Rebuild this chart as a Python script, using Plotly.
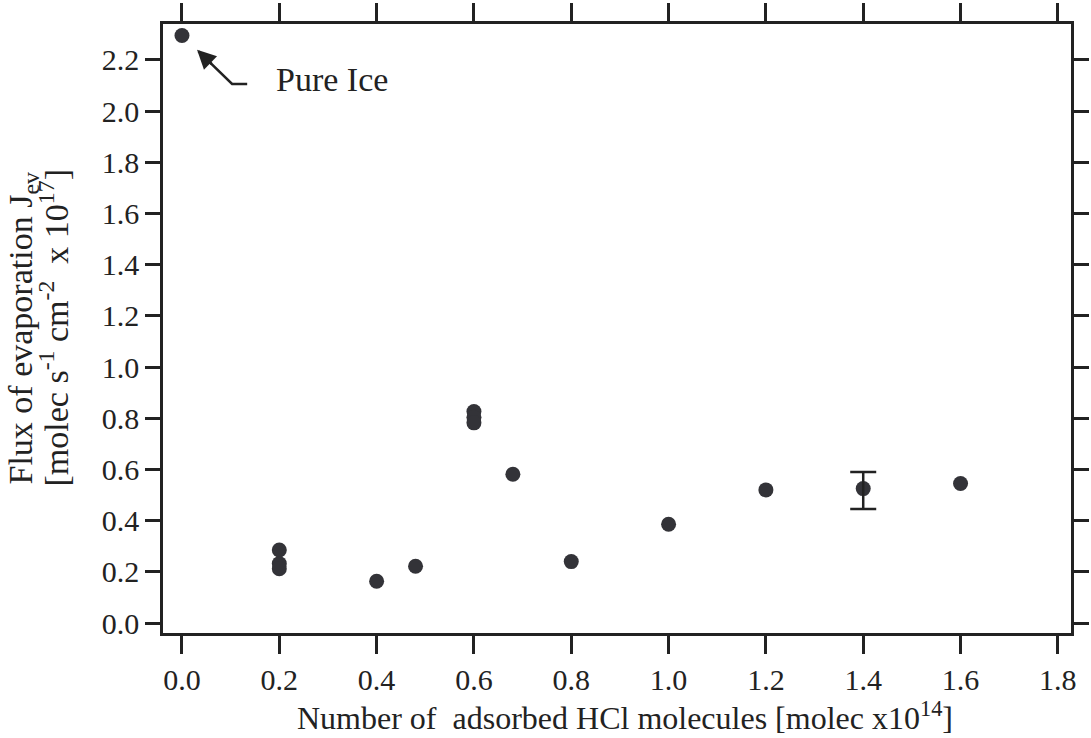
import plotly.graph_objects as go

x_vals = [0.0, 0.2, 0.2, 0.2, 0.4, 0.48, 0.6, 0.6, 0.6, 0.68, 0.8, 1.0, 1.2, 1.4, 1.6]
y_vals = [2.295, 0.285, 0.232, 0.212, 0.163, 0.222, 0.826, 0.804, 0.782, 0.581, 0.240, 0.386, 0.520, 0.525, 0.545]

# error bar (only one point carries it)
err_x = [1.4]
err_y = [0.525]
err_plus = [0.065]
err_minus = [0.080]

x_ticks = [0.0, 0.2, 0.4, 0.6, 0.8, 1.0, 1.2, 1.4, 1.6, 1.8]
y_ticks = [0.0, 0.2, 0.4, 0.6, 0.8, 1.0, 1.2, 1.4, 1.6, 1.8, 2.0, 2.2]

x_title = "Number of  adsorbed HCl molecules [molec x10<sup>14</sup>]"
y_title_1 = "Flux of evaporation J<sub>ev</sub>"
y_title_2 = "[molec s<sup>-1</sup> cm<sup>-2</sup>  x 10<sup>17</sup>]"
note_text = "Pure Ice"

FONT = "Liberation Serif"
DARK = "#333338"
AX = "#222222"
TICK_SIZE = 30
TITLE_SIZE = 34
XTITLE_SIZE = 32

fig = go.Figure()
fig.add_trace(go.Scatter(
    x=x_vals, y=y_vals, mode="markers",
    marker=dict(size=15, color=DARK),
    showlegend=False,
))
fig.add_trace(go.Scatter(
    x=err_x, y=err_y, mode="markers",
    marker=dict(size=15, color=DARK, opacity=0),
    error_y=dict(type="data", symmetric=False, array=err_plus, arrayminus=err_minus,
                 color=AX, thickness=2.5, width=13),
    showlegend=False,
))

# bent arrow pointing at the pure-ice point
fig.add_shape(type="path", path="M 0.034,2.233 L 0.103,2.106 L 0.134,2.106",
              xref="x", yref="y", line=dict(color=AX, width=2.5))
fig.add_annotation(x=0.031, y=2.239, ax=0.064, ay=2.178, axref="x", ayref="y",
                   xref="x", yref="y", text="", showarrow=True,
                   arrowhead=2, arrowsize=1.5, arrowwidth=2.5, arrowcolor=AX)
fig.add_annotation(x=0.19, y=2.122, xref="x", yref="y", text=note_text,
                   showarrow=False, xanchor="left", yanchor="middle",
                   font=dict(family=FONT, size=TITLE_SIZE, color=AX))

# axis titles as annotations for precise placement
fig.add_annotation(x=0.5, y=0, xref="paper", yref="paper", text=x_title,
                   showarrow=False, xanchor="center", yanchor="middle",
                   xshift=8, yshift=-83,
                   font=dict(family=FONT, size=XTITLE_SIZE, color=AX))
fig.add_annotation(x=0, y=0.5, xref="paper", yref="paper", text=y_title_1,
                   showarrow=False, xanchor="center", yanchor="middle",
                   textangle=-90, xshift=-141,
                   font=dict(family=FONT, size=TITLE_SIZE, color=AX))
fig.add_annotation(x=0, y=0.5, xref="paper", yref="paper", text=y_title_2,
                   showarrow=False, xanchor="center", yanchor="middle",
                   textangle=-90, xshift=-110,
                   font=dict(family=FONT, size=TITLE_SIZE, color=AX))

axis_common = dict(
    showline=True, linecolor=AX, linewidth=2.5, mirror="ticks",
    ticks="outside", tickcolor=AX, tickwidth=2.5,
    showgrid=False, zeroline=False, automargin=False,
    tickfont=dict(family=FONT, size=TICK_SIZE, color=AX),
)

fig.update_xaxes(
    range=[-0.039, 1.827], tickvals=x_ticks, ticktext=[f"{v:.1f}" for v in x_ticks],
    ticklen=18, **axis_common,
)
fig.update_yaxes(
    range=[-0.039, 2.34], tickvals=y_ticks, ticktext=[f"{v:.1f}" for v in y_ticks],
    ticklen=15, **axis_common,
)

fig.update_layout(
    width=1091, height=738,
    margin=dict(l=163, r=20, t=24, b=105),
    plot_bgcolor="white", paper_bgcolor="white",
    font=dict(family=FONT, size=TICK_SIZE, color=AX),
)

fig.write_html("out.html")
